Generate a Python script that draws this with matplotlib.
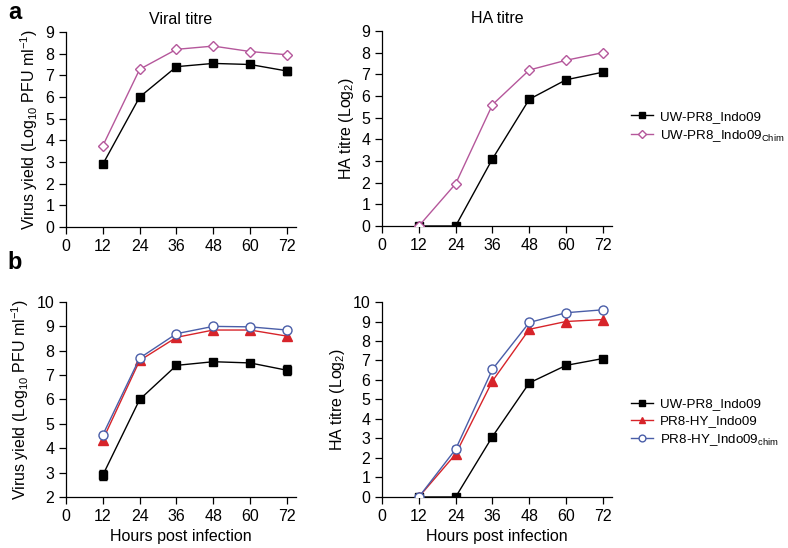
import numpy as np
import matplotlib
matplotlib.use("Agg")
import matplotlib.pyplot as plt
from matplotlib.lines import Line2D

plt.rcParams['font.family'] = ['Liberation Sans', 'DejaVu Sans']
plt.rcParams['mathtext.fontset'] = 'custom'
plt.rcParams['mathtext.rm'] = 'Liberation Sans'
plt.rcParams['mathtext.it'] = 'Liberation Sans'

# data
hours = [12, 24, 36, 48, 60, 72]

# panel a
a_vir_uw = [2.9, 6.0, 7.4, 7.55, 7.5, 7.2]
a_vir_uw_err = [0.05, 0.05, 0.05, 0.05, 0.05, 0.2]
a_vir_chim = [3.75, 7.28, 8.2, 8.35, 8.1, 7.95]
a_ha_uw = [0, 0, 3.1, 5.85, 6.75, 7.1]
a_ha_chim = [0, 1.95, 5.6, 7.2, 7.65, 8.0]

# panel b
b_vir_uw = [2.9, 6.0, 7.4, 7.55, 7.5, 7.2]
b_vir_uw_err = [0.2, 0.05, 0.05, 0.05, 0.05, 0.2]
b_vir_hy = [4.35, 7.6, 8.55, 8.85, 8.85, 8.6]
b_vir_hychim = [4.55, 7.7, 8.7, 9.0, 8.98, 8.85]
b_ha_uw = [0, 0, 3.1, 5.85, 6.75, 7.1]
b_ha_hy = [0, 2.2, 5.95, 8.6, 9.0, 9.1]
b_ha_hychim = [0, 2.45, 6.55, 8.95, 9.45, 9.6]
b_ha_hychim_err = [0, 0.15, 0, 0, 0, 0]

purple = '#b5579b'
red = '#d7242a'
blue = '#4a5ea8'

fig = plt.figure(figsize=(7.88, 5.48), dpi=100)

W = 0.292
H = 0.3558
ax1 = fig.add_axes([0.0838, 0.5858, W, H])
ax2 = fig.add_axes([0.4848, 0.5876, W, H])
ax3 = fig.add_axes([0.0838, 0.0931, W, H])
ax4 = fig.add_axes([0.4848, 0.0931, W, H])

sq = dict(color='black', marker='s', markersize=5.5, lw=1, zorder=3)
dia = dict(color=purple, marker='D', markersize=5, markerfacecolor='white',
           markeredgewidth=1, lw=1, zorder=4)
tri = dict(color=red, marker='^', markersize=6.5, lw=1, zorder=4)
circ = dict(color=blue, marker='o', markersize=6.5, markerfacecolor='white',
            markeredgewidth=1, lw=1, zorder=5)

ax1.errorbar(hours, a_vir_uw, yerr=a_vir_uw_err, capsize=3, elinewidth=1, **sq)
ax1.plot(hours, a_vir_chim, **dia)
ax2.plot(hours, a_ha_uw, **sq)
ax2.plot(hours, a_ha_chim, **dia)

ax3.errorbar(hours, b_vir_uw, yerr=b_vir_uw_err, capsize=3, elinewidth=1, **sq)
ax3.plot(hours, b_vir_hy, **tri)
ax3.plot(hours, b_vir_hychim, **circ)
ax4.plot(hours, b_ha_uw, **sq)
ax4.plot(hours, b_ha_hy, **tri)
ax4.errorbar(hours, b_ha_hychim, yerr=b_ha_hychim_err, capsize=3,
             elinewidth=1, **circ)

for ax in [ax1, ax2, ax3, ax4]:
    ax.spines['top'].set_visible(False)
    ax.spines['right'].set_visible(False)
    ax.set_xlim(0, 75)
    ax.set_xticks([0, 12, 24, 36, 48, 60, 72])
    ax.tick_params(labelsize=11.5, width=0.9, length=5)
    for s in ['left', 'bottom']:
        ax.spines[s].set_linewidth(0.9)

for ax in [ax1, ax2]:
    ax.set_ylim(0, 9)
    ax.set_yticks(range(0, 10))
ax3.set_ylim(2, 10)
ax3.set_yticks(range(2, 11))
ax4.set_ylim(0, 10)
ax4.set_yticks(range(0, 11))

ax1.set_title('Viral titre', fontsize=11.5, pad=6)
ax2.set_title('HA titre', fontsize=11.5, pad=6)
vlab = 'Virus yield (Log$_{10}$ PFU ml$^{-1}$)'
ax1.set_ylabel(vlab, fontsize=11.5)
ax3.set_ylabel(vlab, fontsize=11.5)
ax2.set_ylabel('HA titre (Log$_2$)', fontsize=11.5)
ax4.set_ylabel('HA titre (Log$_2$)', fontsize=11.5)
ax3.set_xlabel('Hours post infection', fontsize=11.5)
ax4.set_xlabel('Hours post infection', fontsize=11.5)

fig.text(0.01, 0.965, 'a', fontsize=17, fontweight='bold')
fig.text(0.01, 0.51, 'b', fontsize=17, fontweight='bold')

h_sq = Line2D([], [], **sq)
h_dia = Line2D([], [], **dia)
h_tri = Line2D([], [], **tri)
h_circ = Line2D([], [], **circ)

leg_kw = dict(loc='center left', frameon=False, fontsize=9.6, handlelength=1.65,
              handletextpad=0.5, labelspacing=0.35, markerscale=0.75)
fig.legend([h_sq, h_dia], ['UW-PR8_Indo09', 'UW-PR8_Indo09$_{\\mathrm{Chim}}$'],
           bbox_to_anchor=(0.786, 0.768), **leg_kw)
fig.legend([h_sq, h_tri, h_circ], ['UW-PR8_Indo09', 'PR8-HY_Indo09',
                                    'PR8-HY_Indo09$_{\\mathrm{chim}}$'],
           bbox_to_anchor=(0.786, 0.228), **leg_kw)

fig.savefig('out.png', dpi=100)
